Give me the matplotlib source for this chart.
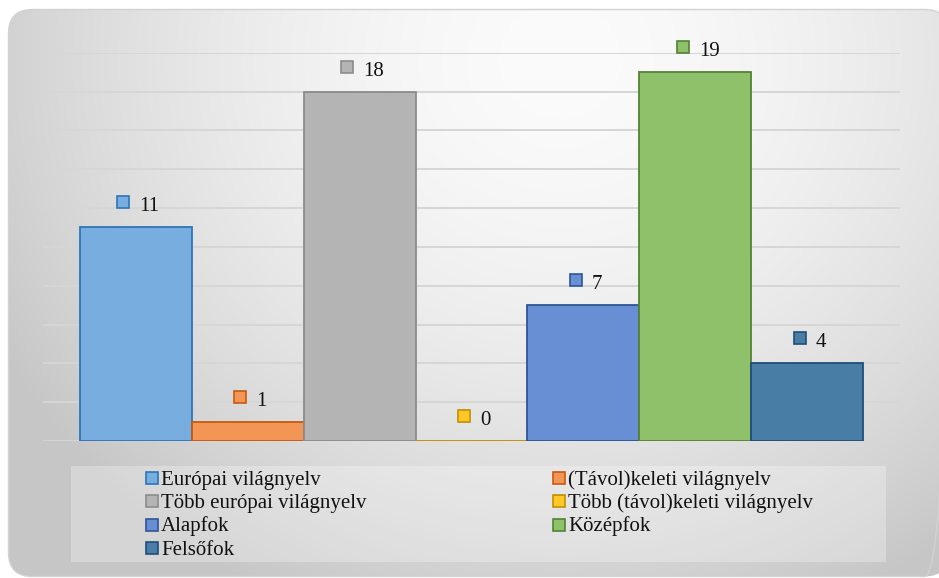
import numpy as np
import matplotlib
matplotlib.use("Agg")
import matplotlib.pyplot as plt
from matplotlib.patches import FancyBboxPatch, Rectangle
from matplotlib.transforms import offset_copy

# ---- data ----
series = ["Európai világnyelv", "(Távol)keleti világnyelv", "Több európai világnyelv",
          "Több (távol)keleti világnyelv", "Alapfok", "Középfok", "Felsőfok"]
values = [11, 1, 18, 0, 7, 19, 4]
fills = ["#78ADE0", "#F39655", "#B4B4B4", "#FFC727", "#688ED4", "#8FC06A", "#487DA5"]
edges = ["#2E75B6", "#C55A11", "#8C8C8C", "#BF9000", "#2F5597", "#548235", "#1F4E79"]
legend_order = [0, 2, 4, 6, 1, 3, 5]   # column 1 then column 2

W, H = 939, 578
plt.rcParams['font.family'] = ['Liberation Serif', 'DejaVu Serif']
FS = 15

fig = plt.figure(figsize=(W / 100, H / 100), dpi=100)
fig.patch.set_facecolor("white")

# ---- background (pixel coords) ----
bg = fig.add_axes([0, 0, 1, 1])
bg.set_xlim(0, W)
bg.set_ylim(H, 0)
bg.axis("off")
yy, xx = np.mgrid[0:H, 0:W]
d = np.sqrt(((xx - 560) / 600.0) ** 2 + ((yy - 60) / 560.0) ** 2)
g = np.clip(251 - 47 * d ** 1.7, 198, 251) / 255.0
img = bg.imshow(np.dstack([g, g, g]), extent=(0, W, H, 0), interpolation="bilinear", zorder=0)
box = FancyBboxPatch((8.5, 9.5), 940, 567, boxstyle="round,pad=0,rounding_size=24",
                     facecolor="none", edgecolor="#d2d2d2", lw=1.0, zorder=1)
bg.add_patch(box)
img.set_clip_path(box)

# legend box
bg.add_patch(Rectangle((71, 466), 815, 96, facecolor="white", alpha=0.28, edgecolor="none", zorder=2))
col_x = [146, 553]
row_y = [477.5, 501, 524.5, 548]
for k, idx in enumerate(legend_order):
    c = 0 if k < 4 else 1
    r = k if k < 4 else k - 4
    x0 = col_x[c]
    y0 = row_y[r]
    bg.add_patch(Rectangle((x0, y0 - 6), 12, 12, facecolor=fills[idx], edgecolor=edges[idx],
                           lw=1.2, zorder=3))
    bg.text(x0 + 15, y0 + 7, series[idx], fontsize=FS, va="baseline", ha="left",
            color="#111111", zorder=3)

# ---- main plot ----
ax = fig.add_axes([43 / W, 1 - 441 / H, (900 - 43) / W, (441 - 52.7) / H])
ax.patch.set_alpha(0)
ax.set_xlim(-0.5, 0.5)
ax.set_ylim(0, 20)
for s in ax.spines.values():
    s.set_visible(False)
ax.set_xticks([])
ax.set_yticks([])
for gy in range(0, 21, 2):
    ax.axhline(gy, color="#d6d6d6", lw=1.4, zorder=1)

n = len(values)
w = 0.9137 / n
xs = [(i - (n - 1) / 2) * w for i in range(n)]
ax.bar(xs, values, width=w, color=fills, edgecolor=edges, linewidth=1.3, zorder=3)

for x, v, fc, ec in zip(xs, values, fills, edges):
    nd = len(str(v))
    mdx = -(2.5 + 5 * nd)
    tr = offset_copy(ax.transData, fig=fig, x=mdx, y=25, units="dots")
    ax.plot([x], [v], marker="s", ms=12 * 0.72, mfc=fc, mec=ec, mew=1.2,
            transform=tr, clip_on=False, zorder=4)
    ax.annotate(str(v), (x, v), xytext=(mdx + 16, 16), textcoords="offset pixels",
                fontsize=FS, ha="left", va="baseline", color="#111111",
                annotation_clip=False, zorder=4)

fig.savefig("out.png", dpi=100)
